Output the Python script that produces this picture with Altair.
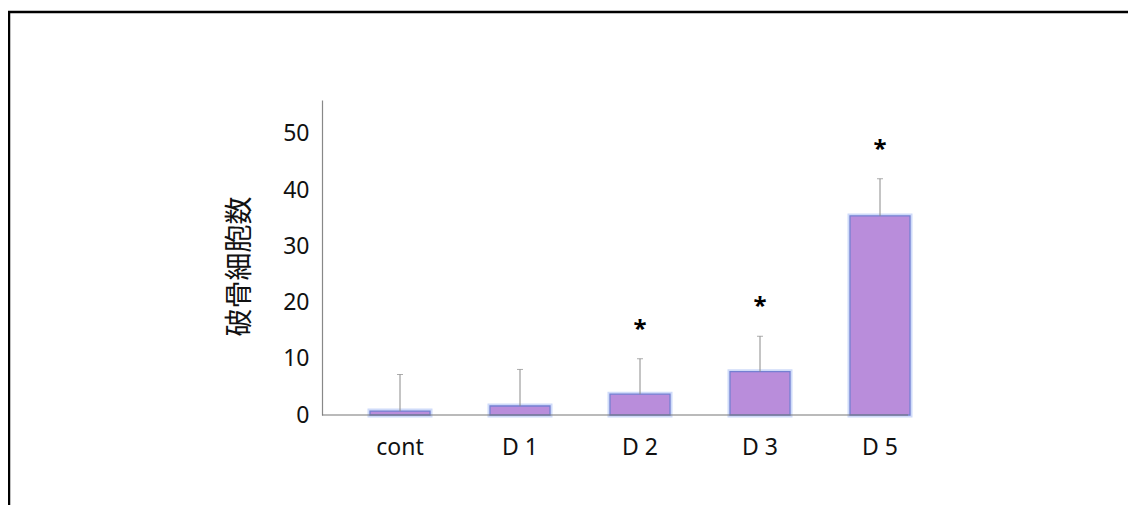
import altair as alt
import pandas as pd

groups = ["cont", "D 1", "D 2", "D 3", "D 5"]
means = [0.7, 1.6, 3.7, 7.7, 35.4]
err_top = [7.2, 8.1, 10.0, 14.0, 42.0]
marks = ["", "", "*", "*", "*"]
y_ticks = [0, 10, 20, 30, 40, 50]

df = pd.DataFrame({"group": groups, "mean": means, "top": err_top, "sig": marks})

W, H = 636, 315
PL, PT = 314, 92

xenc = alt.X("group:N", sort=groups,
             scale=alt.Scale(paddingInner=0.5, paddingOuter=0.4),
             axis=alt.Axis(title=None, domain=False, ticks=False, labelAngle=0,
                           labelFontSize=23, labelPadding=21, labelColor="#111",
                           labelFont="Noto Sans"))
yscale = alt.Scale(domain=[0, 56], nice=False)

base = alt.Chart(df)

bars_glow = base.mark_bar(fill="#B98DDB", stroke="#AFC3F5", strokeWidth=5, strokeOpacity=0.6).encode(
    x=xenc,
    y=alt.Y("mean:Q", scale=yscale,
            axis=alt.Axis(title="破骨細胞数", values=y_ticks, grid=False, ticks=False,
                          domainColor="#888", domainWidth=1.2,
                          labelFontSize=23, labelPadding=13, labelColor="#111",
                          labelFont="Noto Sans",
                          titleFont="Noto Sans CJK JP", titleFontSize=28,
                          titleFontWeight="normal", titleColor="#111",
                          titlePadding=28, titleY=166)),
)
bars = base.mark_bar(fill="#B98DDB", stroke="#7480D2", strokeWidth=1.3).encode(
    x=alt.X("group:N", sort=groups), y=alt.Y("mean:Q"))

err = base.mark_rule(color="#8a8a8a", strokeWidth=1).encode(
    x=alt.X("group:N", sort=groups), y="mean:Q", y2="top:Q")
cap = base.mark_tick(color="#8a8a8a", thickness=1, size=6, orient="horizontal").encode(
    x=alt.X("group:N", sort=groups), y="top:Q")
stars = base.mark_text(fontSize=24, fontWeight="bold", color="#000", baseline="middle",
                       dy=-29, font="Noto Sans").encode(
    x=alt.X("group:N", sort=groups), y="top:Q", text="sig:N")

xaxis = alt.Chart(pd.DataFrame({"v": [0]})).mark_rule(color="#777", strokeWidth=1.2).encode(
    y=alt.Y("v:Q"), x=alt.value(0), x2=alt.value(586))

border = alt.Chart(pd.DataFrame({"v": [0]})).mark_rect(
    fill=None, stroke="#000", strokeWidth=2.5).encode(
    x=alt.value(-PL + 1), x2=alt.value(W + 300),
    y=alt.value(-PT + 4), y2=alt.value(H + 300))

chart = alt.layer(bars_glow, bars, err, cap, stars, xaxis, border).properties(
    width=W, height=H,
    autosize=alt.AutoSizeParams(type="none"),
    padding={"left": PL, "top": PT, "right": 170, "bottom": 90},
).configure(background="white").configure_view(stroke=None, strokeWidth=0)

chart.save("out.html", embed_options={"renderer": "svg", "actions": False})
